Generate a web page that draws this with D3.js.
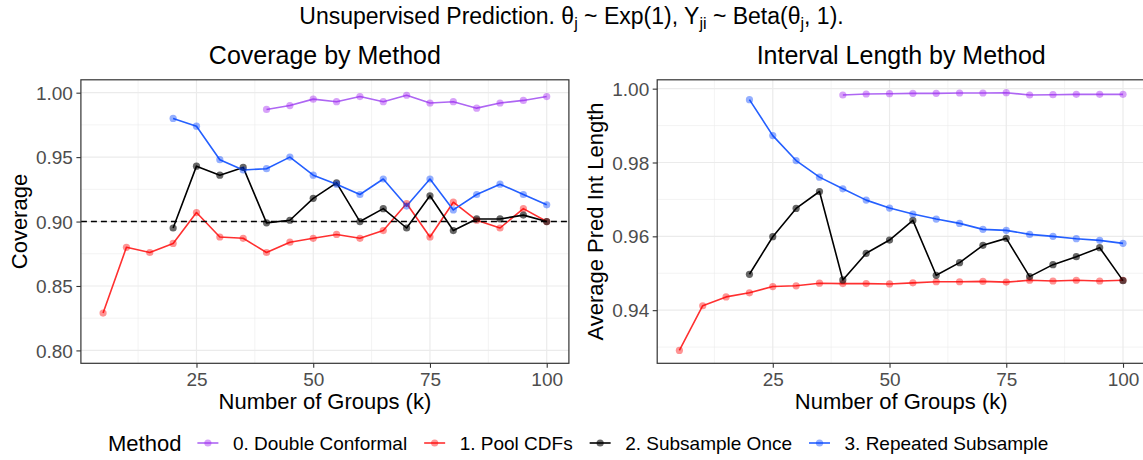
<!DOCTYPE html>
<html>
<head>
<meta charset="utf-8">
<script src="https://cdn.jsdelivr.net/npm/d3@7"></script>
<style>
  html, body { margin: 0; padding: 0; background: #fff; }
  svg { display: block; font-family: "Liberation Sans", Arial, Helvetica, sans-serif; }
</style>
</head>
<body>
<svg id="chart" width="1143" height="460"></svg>
<script>
// ---------------- DATA ----------------
const methods = ["0. Double Conformal", "1. Pool CDFs", "2. Subsample Once", "3. Repeated Subsample"];
const kDouble = [40, 45, 50, 55, 60, 65, 70, 75, 80, 85, 90, 95, 100];
const kPool = [5, 10, 15, 20, 25, 30, 35, 40, 45, 50, 55, 60, 65, 70, 75, 80, 85, 90, 95, 100];
const kSub = [20, 25, 30, 35, 40, 45, 50, 55, 60, 65, 70, 75, 80, 85, 90, 95, 100];

// Coverage (left panel)
const covDouble = [0.987, 0.990, 0.995, 0.993, 0.997, 0.993, 0.998, 0.992, 0.993, 0.988, 0.992, 0.994, 0.997];
const covPool = [0.829, 0.880, 0.876, 0.883, 0.907, 0.888, 0.887, 0.876, 0.884, 0.887, 0.890, 0.887, 0.893, 0.914, 0.888, 0.915, 0.901, 0.895, 0.910, 0.900];
const covOnce = [0.895, 0.943, 0.936, 0.942, 0.899, 0.901, 0.918, 0.930, 0.900, 0.910, 0.895, 0.920, 0.893, 0.902, 0.902, 0.905, 0.900];
const covRepeat = [0.980, 0.974, 0.948, 0.940, 0.941, 0.950, 0.936, 0.929, 0.921, 0.933, 0.912, 0.933, 0.909, 0.921, 0.929, 0.921, 0.913];

// Average prediction interval length (right panel)
const lenDouble = [0.99828, 0.99855, 0.99864, 0.99873, 0.99873, 0.99882, 0.99882, 0.99891, 0.99828, 0.99837, 0.99846, 0.99846, 0.99846];
const lenPool = [0.9291, 0.9412, 0.9436, 0.9447, 0.9464, 0.9466, 0.9473, 0.9472, 0.9472, 0.9471, 0.9474, 0.9477, 0.9477, 0.9478, 0.9476, 0.9481, 0.9479, 0.9481, 0.9479, 0.9481];
const lenOnce = [0.94972, 0.9599, 0.96756, 0.97215, 0.94819, 0.9554, 0.959, 0.96432, 0.94945, 0.95287, 0.95756, 0.95945, 0.94909, 0.95233, 0.9545, 0.95693, 0.948];
const lenRepeat = [0.99702, 0.98729, 0.98053, 0.97603, 0.97287, 0.96981, 0.96765, 0.96603, 0.96468, 0.96351, 0.96189, 0.96162, 0.96053, 0.96, 0.95936, 0.95891, 0.9581];

const xTicks = [25, 50, 75, 100];
const covTicks = [0.80, 0.85, 0.90, 0.95, 1.00];
const lenTicks = [0.94, 0.96, 0.98, 1.00];
const targetCoverage = 0.90;

// ---------------- STYLE ----------------
const lineColors = ["#AE66F3", "#FF3030", "#000000", "#2560FF"];
const pointColors = ["#A020F0", "#FF0000", "#000000", "#0040FF"];
const pointOpacity = [0.42, 0.42, 0.6, 0.42];

const svg = d3.select("#chart");
const W = 1143;

function expand(ext, f) {
  const r = ext[1] - ext[0];
  return [ext[0] - r * f, ext[1] + r * f];
}

function drawPanel(cfg) {
  const left = cfg.left, right = cfg.right, pTop = cfg.pTop, pBottom = cfg.pBottom;
  const x = d3.scaleLinear().domain(expand([5, 100], 0.05)).range([left, right]);
  const y = d3.scaleLinear().domain(cfg.yDomain).range([pBottom, pTop]);
  const g = svg.append("g");

  const clipId = "clip" + cfg.id;
  svg.append("clipPath").attr("id", clipId)
    .append("rect").attr("x", left).attr("y", pTop).attr("width", right - left).attr("height", pBottom - pTop);

  const grid = g.append("g").attr("clip-path", `url(#${clipId})`);
  const xMinor = xTicks.map(t => t - 12.5);
  grid.selectAll(".xminor").data(xMinor).join("line")
    .attr("x1", d => x(d)).attr("x2", d => x(d)).attr("y1", pTop).attr("y2", pBottom)
    .attr("stroke", "#EBEBEB").attr("stroke-width", 0.6);
  const yt = cfg.yTicks;
  const step = yt[1] - yt[0];
  const yMinor = [yt[0] - step / 2].concat(yt.map(t => t + step / 2));
  grid.selectAll(".yminor").data(yMinor).join("line")
    .attr("x1", left).attr("x2", right).attr("y1", d => y(d)).attr("y2", d => y(d))
    .attr("stroke", "#EBEBEB").attr("stroke-width", 0.6);
  grid.selectAll(".xmajor").data(xTicks).join("line")
    .attr("x1", d => x(d)).attr("x2", d => x(d)).attr("y1", pTop).attr("y2", pBottom)
    .attr("stroke", "#EBEBEB").attr("stroke-width", 1.2);
  grid.selectAll(".ymajor").data(yt).join("line")
    .attr("x1", left).attr("x2", right).attr("y1", d => y(d)).attr("y2", d => y(d))
    .attr("stroke", "#EBEBEB").attr("stroke-width", 1.2);

  const plot = g.append("g").attr("clip-path", `url(#${clipId})`);
  const line = d3.line().x(d => x(d[0])).y(d => y(d[1]));
  cfg.series.forEach((s, i) => {
    plot.append("path").datum(d3.zip(s.k, s.v))
      .attr("d", line).attr("fill", "none")
      .attr("stroke", lineColors[i]).attr("stroke-width", 1.6)
      .attr("stroke-linejoin", "round");
  });
  cfg.series.forEach((s, i) => {
    plot.selectAll(null).data(d3.zip(s.k, s.v)).join("circle")
      .attr("cx", d => x(d[0])).attr("cy", d => y(d[1])).attr("r", 3.6)
      .attr("fill", pointColors[i]).attr("fill-opacity", pointOpacity[i]);
  });
  if (cfg.hline !== undefined) {
    plot.append("line")
      .attr("x1", left).attr("x2", right).attr("y1", y(cfg.hline)).attr("y2", y(cfg.hline))
      .attr("stroke", "#000").attr("stroke-width", 1.6).attr("stroke-dasharray", "6,4");
  }

  g.append("rect").attr("x", left).attr("y", pTop).attr("width", right - left).attr("height", pBottom - pTop)
    .attr("fill", "none").attr("stroke", "#333333").attr("stroke-width", 1.2);

  const xAxis = d3.axisBottom(x).tickValues(xTicks).tickSize(4.5).tickPadding(4).tickFormat(d3.format("d"));
  const xa = g.append("g").attr("transform", `translate(0,${pBottom})`).call(xAxis);
  const yAxis = d3.axisLeft(y).tickValues(yt).tickSize(4.5).tickPadding(3.5).tickFormat(d3.format(".2f"));
  const ya = g.append("g").attr("transform", `translate(${left},0)`).call(yAxis);
  [xa, ya].forEach(a => {
    a.select(".domain").remove();
    a.selectAll(".tick line").attr("stroke", "#333333").attr("stroke-width", 1.1);
    a.selectAll(".tick text").attr("fill", "#4D4D4D").attr("font-size", "19px")
      .attr("font-family", "Liberation Sans, Arial, sans-serif");
  });
  xa.selectAll(".tick text").attr("y", 0).attr("dy", 0).attr("transform", "translate(0,22.4)");
  ya.selectAll(".tick text").attr("dy", "0.35em");

  g.append("text").attr("x", (left + right) / 2).attr("y", 409.4).attr("text-anchor", "middle")
    .attr("font-size", "22px").attr("fill", "#000").text("Number of Groups (k)");
  g.append("text").attr("transform", `translate(${cfg.yTitleX},${(pTop + pBottom) / 2}) rotate(-90)`)
    .attr("text-anchor", "middle").attr("font-size", "22px").attr("fill", "#000").text(cfg.yTitle);
  g.append("text").attr("x", (left + right) / 2).attr("y", 64.3).attr("text-anchor", "middle")
    .attr("font-size", "25px").attr("fill", "#000").text(cfg.title);
}

const panelTop = 79.8, panelBottom = 363.3;

drawPanel({
  id: "L", left: 80.9, right: 568.9, pTop: panelTop, pBottom: panelBottom,
  yDomain: [0.79, 1.01], yTicks: covTicks,
  series: [
    { k: kDouble, v: covDouble },
    { k: kPool, v: covPool },
    { k: kSub, v: covOnce },
    { k: kSub, v: covRepeat }
  ],
  hline: targetCoverage,
  yTitle: "Coverage", yTitleX: 26.5,
  title: "Coverage by Method"
});

const lenAll = lenDouble.concat(lenPool, lenOnce, lenRepeat);
drawPanel({
  id: "R", left: 657.2, right: 1145.2, pTop: panelTop, pBottom: panelBottom,
  yDomain: expand(d3.extent(lenAll), 0.05), yTicks: lenTicks,
  series: [
    { k: kDouble, v: lenDouble },
    { k: kPool, v: lenPool },
    { k: kSub, v: lenOnce },
    { k: kSub, v: lenRepeat }
  ],
  yTitle: "Average Pred Int Length", yTitleX: 602.5,
  title: "Interval Length by Method"
});

const mt = svg.append("text").attr("x", W / 2).attr("y", 24).attr("text-anchor", "middle")
  .attr("font-size", "23px").attr("fill", "#000");
const parts = [
  ["Unsupervised Prediction. θ", 0], ["j", 1], [" ~ Exp(1), Y", 0], ["ji", 1],
  [" ~ Beta(θ", 0], ["j", 1], [", 1).", 0]
];
let shifted = false;
parts.forEach(([t, sub]) => {
  const ts = mt.append("tspan").text(t);
  if (sub) { ts.attr("font-size", "16px"); if (!shifted) { ts.attr("dy", 5); shifted = true; } }
  else if (shifted) { ts.attr("dy", -5); shifted = false; }
});

const legY = 443;
const lg = svg.append("g");
const legTitle = lg.append("text").attr("x", 108).attr("y", legY).attr("dy", "0.35em")
  .attr("font-size", "22px").attr("fill", "#000").text("Method");
let cur = 108 + legTitle.node().getComputedTextLength() + 16;
methods.forEach((m, i) => {
  lg.append("line").attr("x1", cur).attr("x2", cur + 21).attr("y1", legY).attr("y2", legY)
    .attr("stroke", lineColors[i]).attr("stroke-width", 1.6);
  lg.append("circle").attr("cx", cur + 10.5).attr("cy", legY).attr("r", 3.6)
    .attr("fill", pointColors[i]).attr("fill-opacity", pointOpacity[i]);
  const t = lg.append("text").attr("x", cur + 35.5).attr("y", legY).attr("dy", "0.35em")
    .attr("font-size", "19px").attr("fill", "#000").text(m);
  cur = cur + 35.5 + t.node().getComputedTextLength() + 17;
});
</script>
</body>
</html>
